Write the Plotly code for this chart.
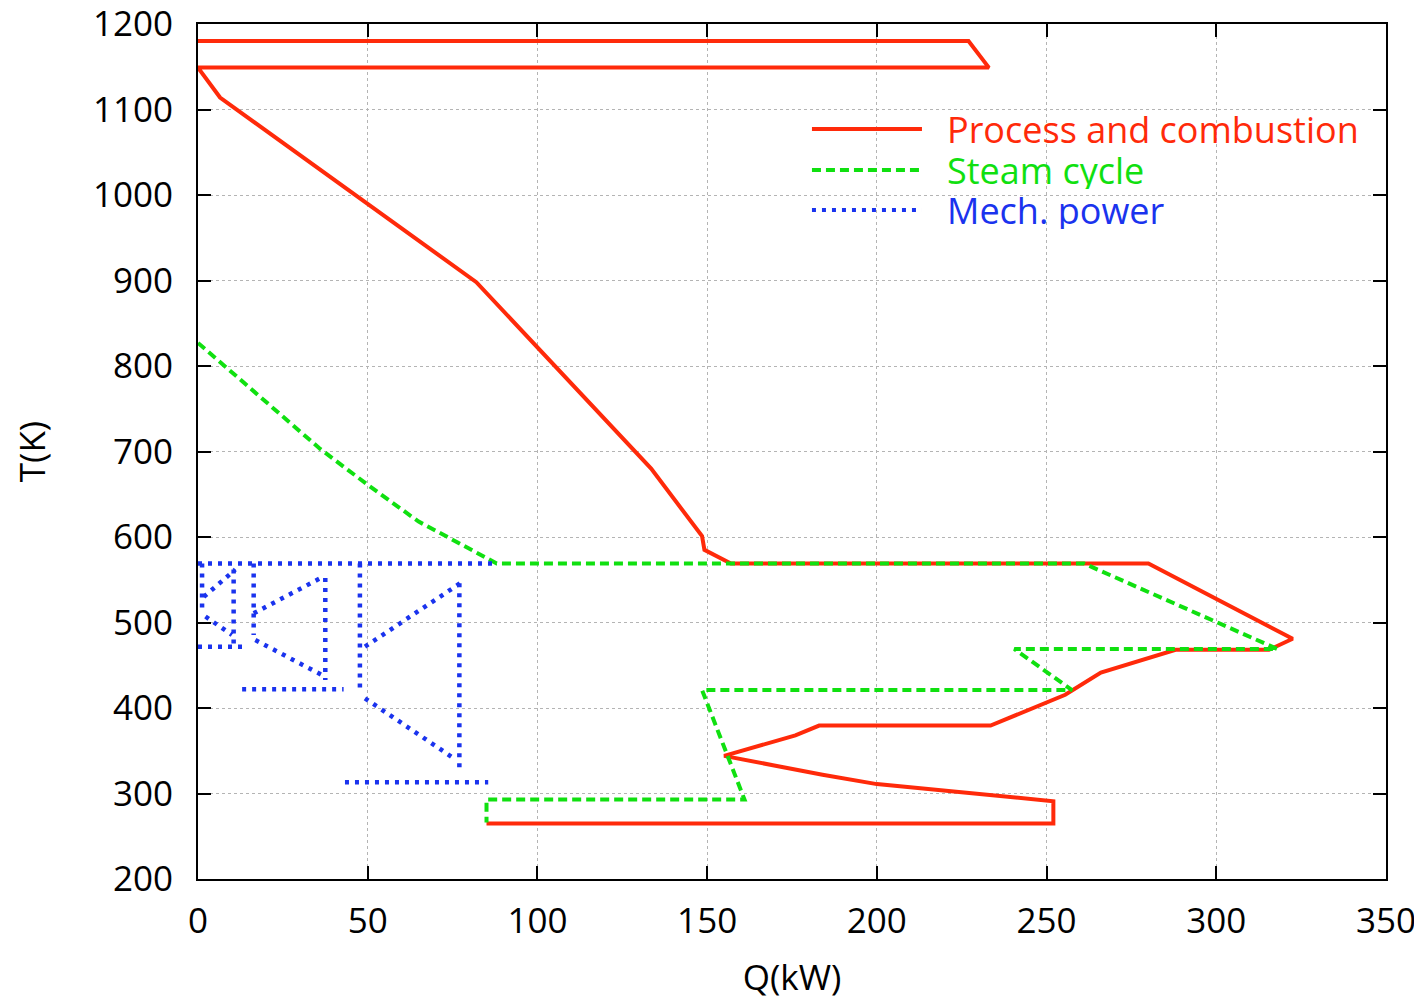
import plotly.graph_objects as go

# ---------------- data ----------------
# Process and combustion (red, one continuous path)
red_q = [0, 227, 233, 0, 6.5, 82, 133.5, 148.5, 149.2, 157, 280, 322.5, 315.5, 288, 266, 255.5, 233.5, 183, 176, 155, 184, 200, 252, 252, 85]
red_t = [1180, 1180, 1149, 1149, 1114, 898, 680, 601, 585, 569, 569, 481, 468, 468, 441.5, 415.5, 379.5, 379.5, 368, 344, 322, 311, 291, 265, 265]

# Steam cycle (green dashed)
green_q = [0, 23, 36, 50, 65, 74, 88, 261, 318, 240.5, 257.5, 148.5, 161, 85, 85]
green_t = [827, 748, 703, 661, 618, 599, 569, 569, 469, 469, 421, 421, 293, 293, 266]

# Mech. power (blue dotted, separate segments split by None)
blue_q = [0, 88, None,
          1.2, 1.2, None, 1.7, 11, None, 2.2, 10, None, 10.5, 10.5, None, 0, 13.5, None,
          16.4, 16.4, None, 16.4, 36, None, 37.5, 37.5, None, 16.9, 36.5, None, 13, 42.9, None,
          47.7, 47.7, None, 49.2, 77.2, None, 77, 77, None, 49.2, 74.7, None, 43.3, 85.5]
blue_t = [569, 569, None,
          569, 517, None, 530, 562, None, 507, 485.5, None, 562, 474, None, 471.5, 471.5, None,
          569, 485.5, None, 510.7, 551.7, None, 552, 432.7, None, 479.5, 438.6, None, 421.8, 421.8, None,
          569, 419, None, 471.7, 545.8, None, 545.8, 323.6, None, 411.3, 343, None, 313.1, 313.1]

series_names = ["Process and combustion", "Steam cycle", "Mech. power"]
x_ticks = [0, 50, 100, 150, 200, 250, 300, 350]
y_ticks = [200, 300, 400, 500, 600, 700, 800, 900, 1000, 1100, 1200]

RED = "#ff2a0a"
GREEN = "#10e010"
BLUE = "#1a33ee"
FONT = "Open Sans"

fig = go.Figure()
fig.add_trace(go.Scatter(x=red_q, y=red_t, mode="lines", name=series_names[0],
                         line=dict(color=RED, width=4), connectgaps=False))
fig.add_trace(go.Scatter(x=green_q, y=green_t, mode="lines", name=series_names[1],
                         line=dict(color=GREEN, width=4, dash="9px,5px")))
fig.add_trace(go.Scatter(x=blue_q, y=blue_t, mode="lines", name=series_names[2],
                         line=dict(color=BLUE, width=4.5, dash="4px,6px"), connectgaps=False))

# manual legend (long line samples as in the reference)
leg_y = [0.8772, 0.8292, 0.7825]
leg_cols = [RED, GREEN, BLUE]
leg_dash = ["solid", "9px,5px", "4px,6px"]
for i in range(3):
    fig.add_shape(type="line", xref="paper", yref="paper", x0=0.5168, x1=0.6094,
                  y0=leg_y[i], y1=leg_y[i], line=dict(color=leg_cols[i], width=4, dash=leg_dash[i]))
    fig.add_annotation(xref="paper", yref="paper", x=0.6285, y=leg_y[i], xanchor="left", yanchor="middle",
                       text=series_names[i], showarrow=False, height=38, valign="middle",
                       font=dict(family=FONT, size=36, color=leg_cols[i]))

axis_common = dict(showline=True, linecolor="black", linewidth=2, mirror="allticks",
                   ticks="inside", ticklen=13, tickwidth=1.5, tickcolor="black",
                   showgrid=True, gridcolor="#b4b4b4", gridwidth=1, griddash="dot",
                   zeroline=False, automargin=False, ticklabeloverflow="allow",
                   tickfont=dict(family=FONT, size=35, color="black"))

fig.update_xaxes(range=[0, 350], tickvals=x_ticks, ticklabelstandoff=10,
                 title=dict(text="Q(kW)", font=dict(family=FONT, size=35, color="black"), standoff=23),
                 **axis_common)
fig.update_yaxes(range=[200, 1200], tickvals=y_ticks, ticklabelstandoff=16,
                 title=dict(text="T(K)", font=dict(family=FONT, size=35, color="black"), standoff=50),
                 **axis_common)

# the page body adds an 8px offset, so the margins are reduced accordingly
fig.update_layout(width=1422, height=1000, showlegend=False,
                  margin=dict(l=190, r=44, t=16, b=129, autoexpand=False),
                  plot_bgcolor="white", paper_bgcolor="white")

fig.write_html("out.html")
